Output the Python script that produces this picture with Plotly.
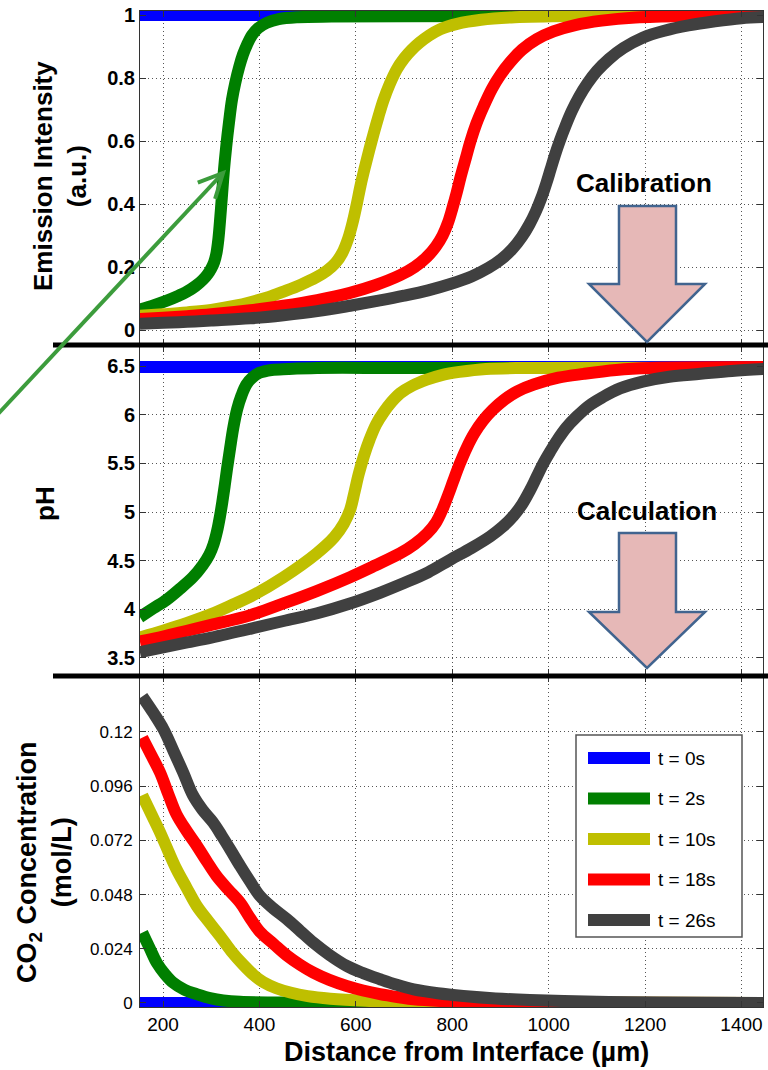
import plotly.graph_objects as go

# ---------------- data ----------------
names = ["t = 0s", "t = 2s", "t = 10s", "t = 18s", "t = 26s"]
colors = ["#0000FF", "#007F00", "#BFBF00", "#FF0000", "#404040"]

# Emission intensity (a.u.)
em_x_t0 = [152, 1450]
em_t0 = [1.0, 1.0]
em_x_t2 = [152, 180, 208, 230, 250, 268, 283, 293, 300, 306, 311, 315, 319, 322, 326, 331, 337, 343, 350, 358, 366, 374, 385, 397, 415, 440, 480, 550, 700, 1000, 1450]
em_t2 = [0.065, 0.078, 0.093, 0.107, 0.122, 0.14, 0.16, 0.178, 0.195, 0.215, 0.245, 0.29, 0.36, 0.42, 0.5, 0.58, 0.66, 0.73, 0.785, 0.835, 0.875, 0.905, 0.937, 0.958, 0.975, 0.987, 0.993, 0.995, 0.996, 0.997, 0.998]
em_x_t10 = [152, 200, 250, 300, 350, 381, 420, 450, 485, 519, 540, 558, 572, 584, 594, 602, 610, 619, 628, 637, 647, 657, 670, 685, 700, 715, 732, 752, 775, 810, 860, 930, 1050, 1450]
em_t10 = [0.045, 0.05, 0.056, 0.064, 0.077, 0.088, 0.105, 0.122, 0.143, 0.168, 0.188, 0.213, 0.245, 0.29, 0.345, 0.4, 0.46, 0.518, 0.572, 0.624, 0.678, 0.728, 0.78, 0.828, 0.862, 0.888, 0.912, 0.935, 0.955, 0.972, 0.985, 0.993, 0.997, 0.998]
em_x_t18 = [152, 200, 250, 300, 381, 450, 520, 588, 640, 692, 722, 748, 766, 780, 791, 800, 809, 818, 828, 838, 850, 865, 882, 900, 920, 945, 975, 1010, 1055, 1110, 1180, 1280, 1450]
em_t18 = [0.035, 0.039, 0.044, 0.05, 0.063, 0.077, 0.095, 0.118, 0.142, 0.174, 0.2, 0.233, 0.265, 0.3, 0.34, 0.385, 0.435, 0.49, 0.545, 0.6, 0.655, 0.71, 0.765, 0.81, 0.85, 0.89, 0.923, 0.948, 0.968, 0.982, 0.992, 0.997, 0.998]
em_x_t26 = [152, 200, 250, 300, 381, 450, 520, 588, 650, 700, 750, 796, 840, 875, 902, 925, 944, 960, 973, 985, 995, 1004, 1013, 1023, 1035, 1048, 1063, 1080, 1100, 1125, 1155, 1195, 1240, 1290, 1345, 1400, 1450]
em_t26 = [0.02, 0.023, 0.026, 0.03, 0.037, 0.047, 0.06, 0.077, 0.094, 0.109, 0.126, 0.146, 0.17, 0.197, 0.225, 0.258, 0.295, 0.335, 0.375, 0.42, 0.465, 0.51, 0.555, 0.6, 0.648, 0.695, 0.74, 0.782, 0.822, 0.86, 0.895, 0.928, 0.95, 0.967, 0.98, 0.99, 0.994]

# pH
ph_x_t0 = [152, 1450]
ph_t0 = [6.49, 6.49]
ph_x_t2 = [152, 180, 208, 235, 262, 282, 296, 305, 312, 318, 323, 328, 333, 339, 346, 354, 363, 373, 385, 400, 425, 460, 520, 700, 1450]
ph_t2 = [3.92, 4.01, 4.1, 4.21, 4.33, 4.45, 4.56, 4.67, 4.8, 4.95, 5.1, 5.27, 5.45, 5.65, 5.87, 6.06, 6.2, 6.31, 6.38, 6.43, 6.46, 6.47, 6.48, 6.48, 6.48]
ph_x_t10 = [152, 200, 250, 300, 350, 381, 450, 519, 555, 575, 588, 597, 606, 617, 629, 642, 657, 674, 692, 718, 747, 780, 815, 870, 950, 1450]
ph_t10 = [3.71, 3.78, 3.86, 3.95, 4.06, 4.13, 4.33, 4.575, 4.74, 4.88, 5.02, 5.2, 5.39, 5.58, 5.75, 5.9, 6.02, 6.13, 6.22, 6.3, 6.36, 6.41, 6.44, 6.47, 6.48, 6.48]
ph_x_t18 = [152, 200, 250, 300, 381, 450, 520, 588, 640, 692, 722, 748, 766, 780, 792, 803, 816, 830, 846, 864, 884, 907, 935, 969, 1020, 1073, 1140, 1211, 1450]
ph_t18 = [3.67, 3.72, 3.78, 3.84, 3.94, 4.06, 4.19, 4.33, 4.45, 4.575, 4.67, 4.78, 4.89, 5.03, 5.18, 5.33, 5.5, 5.66, 5.81, 5.94, 6.05, 6.15, 6.24, 6.31, 6.38, 6.42, 6.46, 6.48, 6.49]
ph_x_t26 = [152, 200, 250, 300, 381, 450, 520, 588, 650, 700, 750, 796, 840, 879, 905, 927, 945, 961, 975, 989, 1003, 1018, 1037, 1058, 1083, 1112, 1148, 1195, 1250, 1315, 1380, 1450]
ph_t26 = [3.56, 3.61, 3.66, 3.71, 3.8, 3.88, 3.96, 4.06, 4.17, 4.27, 4.38, 4.51, 4.63, 4.75, 4.85, 4.96, 5.08, 5.22, 5.36, 5.5, 5.62, 5.74, 5.87, 5.98, 6.09, 6.18, 6.27, 6.34, 6.39, 6.42, 6.45, 6.47]

# CO2 concentration (mol/L)
co2_x_t0 = [152, 1450]
co2_t0 = [0.0, 0.0]
co2_x_t2 = [157, 173, 187, 204, 221, 245, 270, 300, 325, 360, 420, 1450]
co2_t2 = [0.0311, 0.024, 0.0178, 0.0128, 0.009, 0.0058, 0.0039, 0.002, 0.0011, 0.0005, 0.0002, 0.0]
co2_x_t10 = [157, 176, 194, 211, 228, 249, 270, 294, 318, 342, 367, 388, 408, 435, 464, 500, 547, 620, 700, 800, 1450]
co2_t10 = [0.092, 0.0835, 0.0755, 0.0672, 0.0592, 0.051, 0.043, 0.0362, 0.0297, 0.0228, 0.0168, 0.0124, 0.0092, 0.0065, 0.0046, 0.003, 0.0019, 0.001, 0.0005, 0.0002, 0.0]
co2_x_t18 = [157, 175, 194, 211, 228, 249, 270, 290, 311, 335, 360, 380, 401, 430, 457, 485, 512, 545, 581, 615, 650, 690, 720, 780, 850, 1000, 1450]
co2_t18 = [0.1175, 0.11, 0.102, 0.0925, 0.0835, 0.0762, 0.0697, 0.063, 0.0563, 0.0503, 0.0444, 0.0378, 0.0315, 0.026, 0.021, 0.0168, 0.0134, 0.0102, 0.0075, 0.0055, 0.0039, 0.0025, 0.0016, 0.0008, 0.0004, 0.0001, 0.0]
co2_x_t26 = [157, 180, 201, 222, 242, 262, 282, 304, 322, 340, 360, 380, 401, 428, 457, 485, 512, 545, 581, 615, 650, 685, 720, 770, 823, 890, 961, 1100, 1450]
co2_t26 = [0.1358, 0.1285, 0.1212, 0.1115, 0.102, 0.092, 0.0855, 0.0799, 0.074, 0.0678, 0.0607, 0.054, 0.0474, 0.042, 0.0371, 0.0318, 0.0267, 0.0213, 0.0164, 0.0132, 0.0105, 0.008, 0.006, 0.0043, 0.0031, 0.002, 0.0013, 0.0005, 0.0]

x_ticks = [200, 400, 600, 800, 1000, 1200, 1400]
em_ticks = [0, 0.2, 0.4, 0.6, 0.8, 1]
em_ticklabels = ["0", "0.2", "0.4", "0.6", "0.8", "1"]
ph_ticks = [3.5, 4, 4.5, 5, 5.5, 6, 6.5]
ph_ticklabels = ["3.5", "4", "4.5", "5", "5.5", "6", "6.5"]
co2_ticks = [0, 0.024, 0.048, 0.072, 0.096, 0.12]
co2_ticklabels = ["0", "0.024", "0.048", "0.072", "0.096", "0.12"]

em_series = [(em_x_t0, em_t0), (em_x_t2, em_t2), (em_x_t10, em_t10), (em_x_t18, em_t18), (em_x_t26, em_t26)]
ph_series = [(ph_x_t0, ph_t0), (ph_x_t2, ph_t2), (ph_x_t10, ph_t10), (ph_x_t18, ph_t18), (ph_x_t26, ph_t26)]
co2_series = [(co2_x_t0, co2_t0), (co2_x_t2, co2_t2), (co2_x_t10, co2_t10), (co2_x_t18, co2_t18), (co2_x_t26, co2_t26)]

# ---------------- layout geometry ----------------
W, H = 768, 1070
ML, MR, MT, MB = 140, 5, 11, 63
PW, PH = W - ML - MR, H - MT - MB


def px(p):
    return (p - ML) / PW


def py(p):
    return (H - MB - p) / PH


FONT = "Liberation Sans, Arial, Helvetica, sans-serif"
LW = 12

fig = go.Figure()
for series, (xa, ya) in ((em_series, ("x", "y")), (ph_series, ("x2", "y2")), (co2_series, ("x3", "y3"))):
    for i, (xs, ys) in enumerate(series):
        fig.add_trace(go.Scatter(
            x=xs, y=ys, mode="lines", name=names[i], showlegend=False,
            line=dict(color=colors[i], width=LW, shape="spline", smoothing=1.0),
            xaxis=xa, yaxis=ya, hoverinfo="skip"))

axis_common = dict(
    showline=True, linecolor="#333333", linewidth=1, mirror="ticks",
    ticks="inside", ticklen=6, tickcolor="#333333",
    showgrid=True, gridcolor="#555555", griddash="1px,3px", gridwidth=1,
    zeroline=False,
)
xr = [152.3, 1444.6]
bold_tick = dict(family=FONT, size=20, color="black", weight="bold")
fig.update_layout(
    width=W, height=H,
    margin=dict(l=ML, r=MR, t=MT, b=MB),
    paper_bgcolor="white", plot_bgcolor="white",
    showlegend=False,
    xaxis=dict(axis_common, range=xr, tickvals=x_ticks, showticklabels=False, anchor="y", domain=[0, 1]),
    xaxis2=dict(axis_common, range=xr, tickvals=x_ticks, showticklabels=False, anchor="y2", domain=[0, 1], matches="x"),
    xaxis3=dict(axis_common, range=xr, tickvals=x_ticks, anchor="y3", domain=[0, 1], matches="x",
                tickfont=dict(family=FONT, size=19, color="black")),
    yaxis=dict(axis_common, range=[-0.0476, 1.0127], tickvals=em_ticks, ticktext=em_ticklabels,
               domain=[py(345), 1], anchor="x", tickfont=bold_tick),
    yaxis2=dict(axis_common, range=[3.325, 6.706], tickvals=ph_ticks, ticktext=ph_ticklabels,
                domain=[py(675), py(346)], anchor="x2", tickfont=bold_tick),
    yaxis3=dict(axis_common, range=[-0.0018, 0.1448], tickvals=co2_ticks, ticktext=co2_ticklabels,
                domain=[0, py(676)], anchor="x3", tickfont=dict(family=FONT, size=17, color="black"),
                ticklabelstandoff=3),
)

shapes = []
# thick separators between panels
for yy in (345, 676):
    shapes.append(dict(type="line", xref="paper", yref="paper", x0=px(53), x1=px(770), y0=py(yy), y1=py(yy),
                       line=dict(color="black", width=5)))


def block_arrow(top, shaft_bottom, tip):
    pts = [(619, top), (676, top), (676, shaft_bottom), (705, shaft_bottom), (647, tip),
           (589, shaft_bottom), (619, shaft_bottom)]
    d = "M " + " L ".join(f"{px(a):.5f},{py(b):.5f}" for a, b in pts) + " Z"
    return dict(type="path", xref="paper", yref="paper", path=d,
                fillcolor="#E6B8B7", line=dict(color="#41648F", width=2.5))


shapes.append(block_arrow(206, 284, 342))
shapes.append(block_arrow(533, 612, 668))

# green pointer arrow (shaft + open chevron head)
ARROW_GREEN = "#3C9C3C"
shapes.append(dict(type="line", xref="paper", yref="paper", x0=px(-2), y0=py(414), x1=px(222), y1=py(174),
                   line=dict(color=ARROW_GREEN, width=4)))
head = [(197.8, 182.7), (223, 173), (215.1, 198.8)]
shapes.append(dict(type="path", xref="paper", yref="paper",
                   path="M " + " L ".join(f"{px(a):.5f},{py(b):.5f}" for a, b in head),
                   line=dict(color=ARROW_GREEN, width=4)))

# legend (box, swatches)
shapes.append(dict(type="rect", xref="paper", yref="paper", x0=px(576), x1=px(742), y0=py(937), y1=py(735),
                   fillcolor="white", line=dict(color="#555555", width=1.5)))
annotations = []
for i, nm in enumerate(names):
    yy = 758 + 40.5 * i
    shapes.append(dict(type="line", xref="paper", yref="paper", x0=px(588), x1=px(650), y0=py(yy), y1=py(yy),
                       line=dict(color=colors[i], width=12)))
    annotations.append(dict(xref="paper", yref="paper", x=px(656), y=py(yy), text=nm, showarrow=False,
                            xanchor="left", yanchor="middle", font=dict(family=FONT, size=19, color="black")))

# axis titles
title_font = dict(family=FONT, size=26, color="black", weight="bold")
annotations.append(dict(xref="paper", yref="paper", x=px(60), y=py(176), text="Emission Intensity<br>(a.u.)",
                        textangle=-90, showarrow=False, xanchor="center", yanchor="middle", font=title_font))
annotations.append(dict(xref="paper", yref="paper", x=px(45), y=py(504), text="pH",
                        textangle=-90, showarrow=False, xanchor="center", yanchor="middle", font=title_font))
annotations.append(dict(xref="paper", yref="paper", x=px(44), y=py(862), text="CO<sub>2</sub> Concentration<br>(mol/L)",
                        textangle=-90, showarrow=False, xanchor="center", yanchor="middle",
                        font=dict(title_font, size=27)))
annotations.append(dict(xref="paper", yref="paper", x=px(466), y=py(1052), text="Distance from Interface (µm)",
                        showarrow=False, xanchor="center", yanchor="middle", font=dict(title_font, size=27)))

# block arrow labels
annotations.append(dict(xref="paper", yref="paper", x=px(644), y=py(183), text="Calibration", showarrow=False,
                        xanchor="center", yanchor="middle", font=title_font))
annotations.append(dict(xref="paper", yref="paper", x=px(647), y=py(511), text="Calculation", showarrow=False,
                        xanchor="center", yanchor="middle", font=title_font))

fig.update_layout(shapes=shapes, annotations=annotations)
fig.write_html("out.html")
